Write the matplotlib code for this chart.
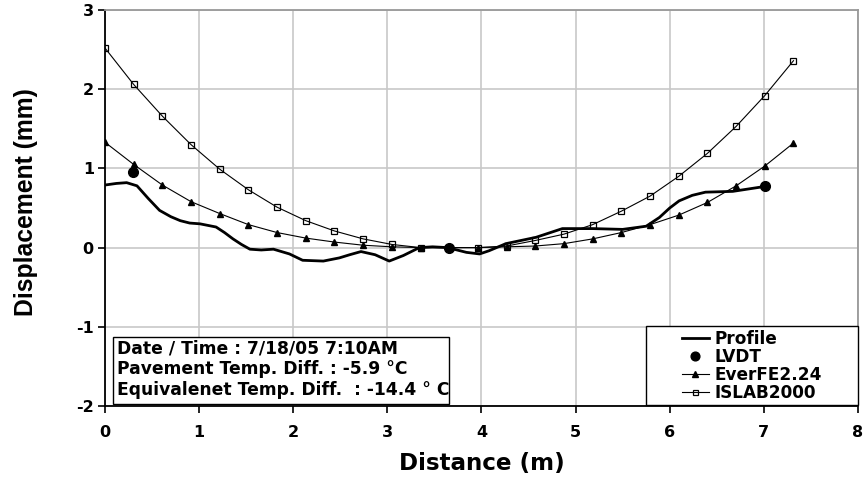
import numpy as np
import matplotlib
matplotlib.use("Agg")
import matplotlib.pyplot as plt
from matplotlib.patches import Rectangle

plt.rcParams['font.family'] = ['DejaVu Sans']
plt.rcParams['font.weight'] = 'bold'
plt.rcParams['axes.unicode_minus'] = False

# Model output stations (1 ft spacing, in m)
station_ft = list(range(25))
model_x = [i * 0.3048 for i in station_ft]

islab = [2.52, 2.06, 1.66, 1.30, 0.99, 0.73, 0.51, 0.34, 0.21, 0.11, 0.04, 0.00,
         0.00, 0.00, 0.02, 0.09, 0.17, 0.29, 0.46, 0.65, 0.90, 1.19, 1.53, 1.92, 2.36]
everfe = [1.33, 1.05, 0.79, 0.58, 0.43, 0.29, 0.19, 0.12, 0.07, 0.03, 0.01, 0.00,
          0.00, 0.00, 0.01, 0.02, 0.05, 0.11, 0.19, 0.29, 0.41, 0.57, 0.78, 1.03, 1.32]

lvdt_x = [0.30, 3.66, 7.01]
lvdt_y = [0.95, 0.00, 0.78]

profile_x = [0.00, 0.12, 0.23, 0.34, 0.46, 0.58, 0.70, 0.80, 0.90, 1.01, 1.18, 1.27,
             1.36, 1.45, 1.54, 1.66, 1.79, 1.96, 2.10, 2.32, 2.49, 2.60, 2.72, 2.87,
             3.02, 3.17, 3.34, 3.48, 3.64, 3.84, 3.98, 4.08, 4.26, 4.58, 4.86, 5.18,
             5.50, 5.75, 5.89, 6.00, 6.10, 6.24, 6.38, 6.67, 7.00]
profile_y = [0.79, 0.81, 0.82, 0.78, 0.62, 0.47, 0.39, 0.34, 0.31, 0.30, 0.26, 0.19,
             0.11, 0.04, -0.02, -0.03, -0.02, -0.08, -0.16, -0.17, -0.13, -0.09, -0.05, -0.09,
             -0.17, -0.10, 0.00, 0.01, 0.00, -0.06, -0.08, -0.04, 0.05, 0.13, 0.24, 0.24,
             0.23, 0.27, 0.38, 0.50, 0.59, 0.66, 0.70, 0.71, 0.77]

info_lines = ['Date / Time : 7/18/05 7:10AM',
              'Pavement Temp. Diff. : -5.9 \u00b0C',
              'Equivalenet Temp. Diff.  : -14.4 \u00b0 C']

fig = plt.figure(figsize=(8.64, 4.78), dpi=100)
ax = fig.add_axes([0.1215, 0.1506, 0.8715, 0.8285])

ax.plot(profile_x, profile_y, color='black', lw=2.0, label='Profile', zorder=4)
ax.plot(lvdt_x, lvdt_y, 'o', color='black', ms=7, label='LVDT', zorder=5)
ax.plot(model_x, everfe, '-^', color='black', lw=0.8, ms=4.3, label='EverFE2.24', zorder=3)
ax.plot(model_x, islab, '-s', color='black', lw=0.8, ms=4.0, mfc='none', mew=0.9,
        label='ISLAB2000', zorder=3)

ax.set_xlim(0, 8)
ax.set_ylim(-2, 3)
ax.set_xticks(range(0, 9))
ax.set_yticks(range(-2, 4))
ax.grid(True, color='#c8c8c8', lw=1.2)
ax.set_axisbelow(True)
for s in ['top', 'right']:
    ax.spines[s].set_color('#999999')
    ax.spines[s].set_linewidth(1.3)
for s in ['left', 'bottom']:
    ax.spines[s].set_color('black')
    ax.spines[s].set_linewidth(1.3)
ax.tick_params(axis='both', direction='out', length=5, width=1.2, labelsize=11.5)
ax.tick_params(top=False, right=False)
for lab in ax.get_xticklabels() + ax.get_yticklabels():
    lab.set_fontweight('bold')
ax.tick_params(axis='x', pad=9)
ax.tick_params(axis='y', pad=3)

fig.text(481.5 / 864, 1 - 470 / 478, 'Distance (m)', fontsize=16.6, fontweight='bold',
         ha='center', va='baseline')
fig.text(26.5 / 864, 1 - 202.5 / 478, 'Displacement (mm)', fontsize=17.8, fontweight='bold',
         family=['Liberation Sans', 'DejaVu Sans'], rotation=90, ha='center', va='center')

# info box
ax.add_patch(Rectangle((0.085, -1.975), 3.66 - 0.085, 1.975 - 1.127, fc='white',
                       ec='black', lw=1.0, zorder=6))
for line, yb in zip(info_lines, [-1.333, -1.599, -1.861]):
    ax.text(0.127, yb, line, fontsize=12.3, fontweight='bold', ha='left',
            va='baseline', zorder=7)

# legend box
ax.add_patch(Rectangle((5.75, -1.99), 8.0 - 5.75, 1.99 - 0.987, fc='white',
                       ec='black', lw=1.0, zorder=6, clip_on=False))
leg = ax.legend(loc='center', bbox_to_anchor=(6.87, -1.499), bbox_transform=ax.transData,
                frameon=False, handlelength=1.6, handletextpad=0.3,
                borderpad=0.0, labelspacing=0.0, markerscale=0.9,
                prop={'weight': 'bold', 'size': 12.2})
leg.set_zorder(7)

fig.savefig('out.png', dpi=100)
